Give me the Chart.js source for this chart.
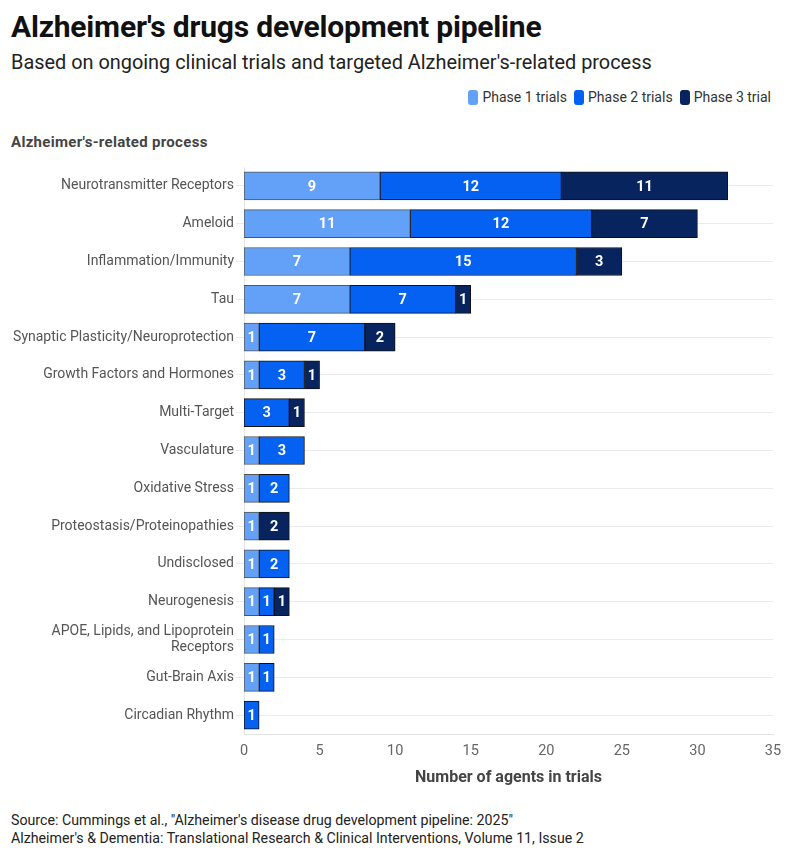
<!DOCTYPE html>
<html>
<head>
<meta charset="utf-8">
<script src="https://cdn.jsdelivr.net/npm/chart.js@4"></script>
<style>
  body{margin:0;background:#fff;font-family:Roboto,"Noto Sans",sans-serif;color:#111;width:795px;height:857px;position:relative;overflow:hidden}
  .t{position:absolute;left:11px;top:9px;font-size:30px;font-weight:700;letter-spacing:-0.2px}
  .st{position:absolute;left:11px;top:51px;font-size:19.9px;color:#222}
  .lg{position:absolute;right:24px;top:89px;font-size:14px;color:#333;display:flex;gap:7px}
  .lg span{display:flex;align-items:center}
  .lg i{display:inline-block;width:10px;height:15px;border-radius:3px;margin-right:4px}
  .yt{position:absolute;left:11px;top:133px;font-size:15px;font-weight:700;color:#444;letter-spacing:0.3px}
  .src{position:absolute;left:11px;top:811px;font-size:14.2px;color:#222;line-height:18px}
  #wrap{position:absolute;left:0;top:151px;width:795px;height:641px}
</style>
</head>
<body>
<div class="t">Alzheimer's drugs development pipeline</div>
<div class="st">Based on ongoing clinical trials and targeted Alzheimer's-related process</div>
<div class="lg" id="lg"></div>
<div class="yt">Alzheimer's-related process</div>
<div id="wrap"><canvas id="ch"></canvas></div>
<div class="src">Source: Cummings et al., "Alzheimer's disease drug development pipeline: 2025"<br>Alzheimer's &amp; Dementia: Translational Research &amp; Clinical Interventions, Volume 11, Issue 2</div>
<script>
const processes = ['Neurotransmitter Receptors','Ameloid','Inflammation/Immunity','Tau',
  'Synaptic Plasticity/Neuroprotection','Growth Factors and Hormones','Multi-Target','Vasculature',
  'Oxidative Stress','Proteostasis/Proteinopathies','Undisclosed','Neurogenesis',
  ['APOE, Lipids, and Lipoprotein','Receptors'],'Gut-Brain Axis','Circadian Rhythm'];
const phase1 = [9,11,7,7,1,1,0,1,1,1,1,1,1,1,0];
const phase2 = [12,12,15,7,7,3,3,3,2,0,2,1,1,1,1];
const phase3 = [11,7,3,1,2,1,1,0,0,2,0,1,0,0,0];
const xTicks = [0,5,10,15,20,25,30,35];

const series = [
  {label:'Phase 1 trials', data:phase1, bg:'#62a1f7', bd:'#555'},
  {label:'Phase 2 trials', data:phase2, bg:'#0461f2', bd:'#111'},
  {label:'Phase 3 trial',  data:phase3, bg:'#07245f', bd:'#111'}
];

document.getElementById('lg').innerHTML = series.map(s =>
  `<span><i style="background:${s.bg}"></i>${s.label}</span>`).join('');

// white numbers inside each segment
const segLabels = {
  id:'segLabels',
  afterDatasetsDraw(chart){
    const ctx = chart.ctx;
    ctx.save();
    ctx.font = 'bold 14.5px Roboto, sans-serif';
    ctx.fillStyle = '#fff';
    ctx.textAlign = 'center';
    ctx.textBaseline = 'middle';
    chart.data.datasets.forEach((ds,i) => {
      chart.getDatasetMeta(i).data.forEach((el,j) => {
        const v = ds.data[j];
        if(!v) return;
        const p = el.getProps(['x','y','base'], true);
        ctx.fillText(v, (p.x + p.base)/2, p.y + 1);
      });
    });
    ctx.restore();
  }
};

new Chart(document.getElementById('ch'), {
  type:'bar',
  data:{labels:processes, datasets: series.map(s => ({
    label:s.label, data:s.data, backgroundColor:s.bg, borderColor:s.bd,
    borderWidth:1, borderSkipped:false, barThickness:28
  }))},
  options:{
    indexAxis:'y', responsive:true, maintainAspectRatio:false, animation:false,
    layout:{padding:{top:16, right:22, left:0, bottom:0}},
    plugins:{legend:{display:false}, tooltip:{enabled:false}},
    scales:{
      x:{stacked:true, min:0, max:35,
        afterBuildTicks: s => { s.ticks = xTicks.map(v => ({value:v})); },
        afterFit: s => { s.height = 58; },
        grid:{display:false, drawTicks:true, tickLength:6},
        border:{color:'#e4e4e4'},
        ticks:{color:'#666', font:{size:14.5, family:'Roboto'}, padding:3},
        title:{display:true, text:'Number of agents in trials', color:'#444',
          font:{size:16, weight:'bold', family:'Roboto'}, padding:{top:6}}
      },
      y:{stacked:true,
        afterFit: s => { s.width = 244; },
        grid:{color:'#ebebeb', tickLength:8, offset:false, drawOnChartArea:true},
        border:{color:'#e4e4e4'},
        ticks:{color:'#555', font:{size:14, family:'Roboto'}, padding:2, autoSkip:false}
      }
    }
  },
  plugins:[segLabels]
});
</script>
</body>
</html>
